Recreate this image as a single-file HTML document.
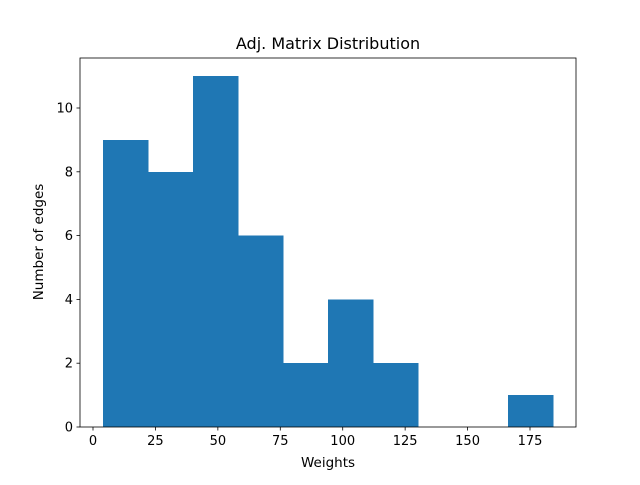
<!DOCTYPE html>
<html><head><meta charset="utf-8"><style>
body{margin:0;background:#fff;font-family:"Liberation Sans","DejaVu Sans",sans-serif}
</style></head><body>
<svg id="chart" width="640" height="480" xmlns="http://www.w3.org/2000/svg" font-family="DejaVu Sans, Liberation Sans, sans-serif">
<rect width="640" height="480" fill="#fff"/>
<g id="bars" shape-rendering="crispEdges"></g>
<g id="axes"></g>
<text x="328" y="49" text-anchor="middle" font-size="16">Adj. Matrix Distribution</text>
<text x="328" y="467" text-anchor="middle" font-size="13.5">Weights</text>
<text transform="translate(43,242) rotate(-90)" text-anchor="middle" font-size="13.5">Number of edges</text>
</svg>
<script>
const binStart = 4.0;
const binWidth = 18.02;
const counts = [9, 8, 11, 6, 2, 4, 2, 0, 0, 1];
const xTicks = [0, 25, 50, 75, 100, 125, 150, 175];
const yTicks = [0, 2, 4, 6, 8, 10];
const L=80,R=576,T=58,B=427;
const xs=v=>93+(v-0)*(437/175);
const ys=v=>427-v*31.9;
const NS="http://www.w3.org/2000/svg";
const bars=document.getElementById('bars'),axes=document.getElementById('axes');
function mk(tag,attrs,parent){const e=document.createElementNS(NS,tag);for(const k in attrs)e.setAttribute(k,attrs[k]);parent.appendChild(e);return e;}
counts.forEach((c,i)=>{if(!c)return;const x0=xs(binStart+i*binWidth),x1=xs(binStart+(i+1)*binWidth);
const r=mk('rect',{x:x0,y:ys(c),width:x1-x0+0.5,height:ys(0)-ys(c),fill:'#1f77b4'},bars);

});
const f=mk('rect',{x:L,y:T,width:R-L,height:B-T,fill:'none',stroke:'#000','stroke-width':0.8},axes);


xTicks.forEach(t=>{const x=xs(t);mk('line',{x1:x,x2:x,y1:B,y2:B+3.5,stroke:'#000','stroke-width':0.8},axes);
const tx=mk('text',{x:x,y:B+18,'text-anchor':'middle','font-size':13},axes);tx.textContent=t;

});
yTicks.forEach(t=>{const y=ys(t);mk('line',{x1:L-3.5,x2:L,y1:y,y2:y,stroke:'#000','stroke-width':0.8},axes);
const tx=mk('text',{x:L-7,y:y+4.5,'text-anchor':'end','font-size':13},axes);tx.textContent=t;

});
</script>
</body></html>
